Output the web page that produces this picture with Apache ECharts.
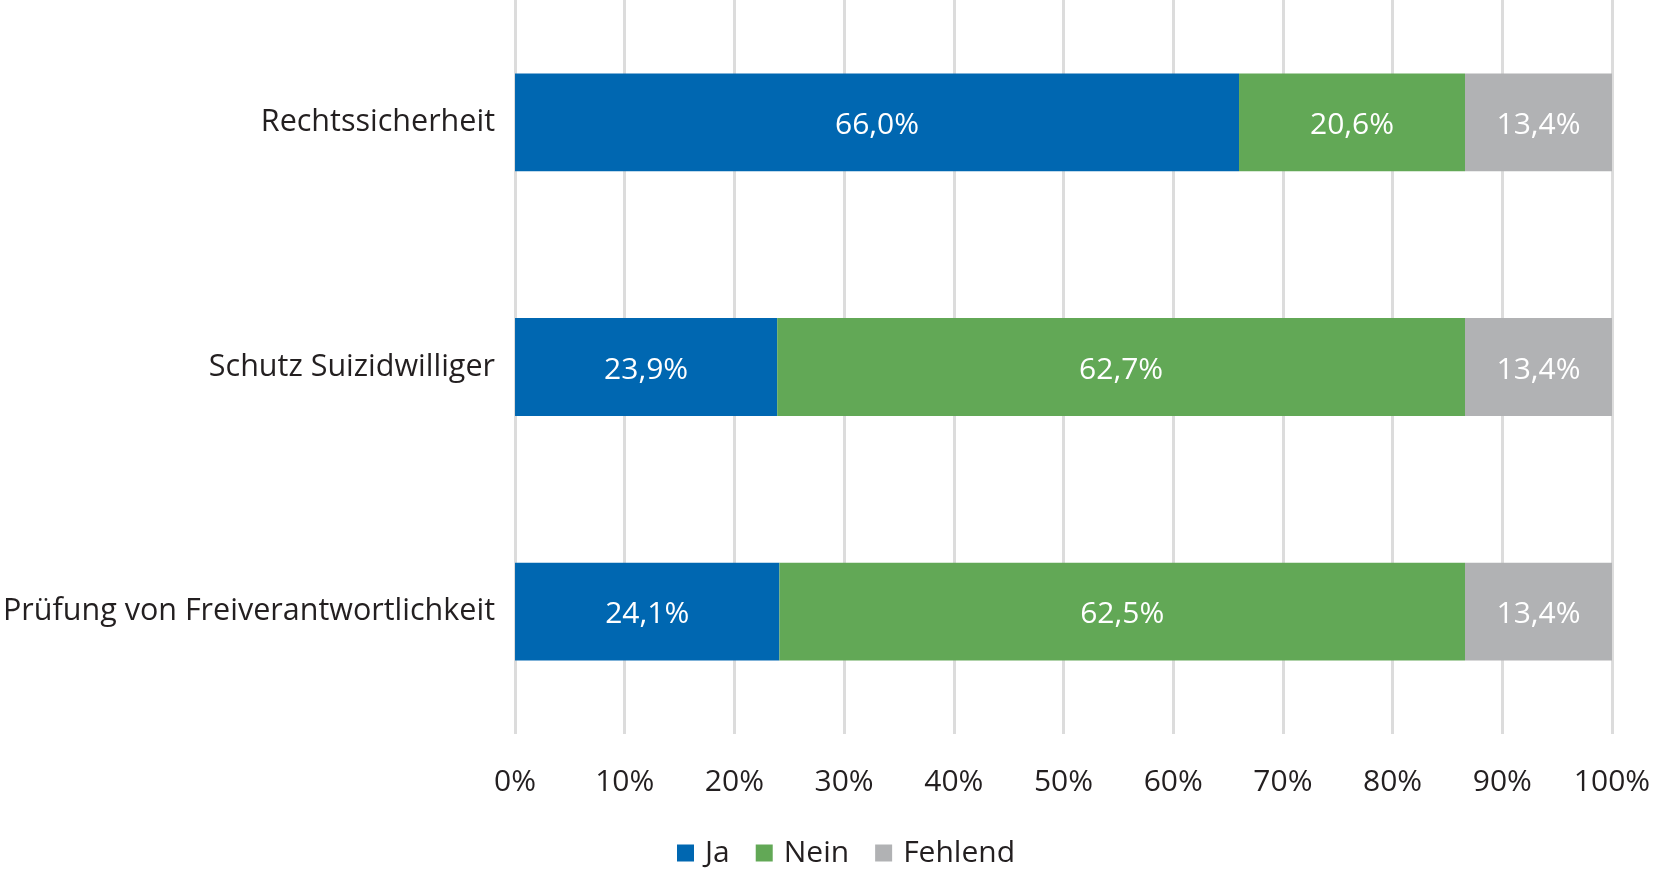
<!DOCTYPE html>
<html><head><meta charset="utf-8">
<script src="https://cdn.jsdelivr.net/npm/echarts@6/dist/echarts.min.js"></script>
<style>html,body{margin:0;padding:0;background:#fff}#c{width:1654px;height:873px}</style>
</head><body><div id="c"></div>
<script>
const categories = ['Rechtssicherheit', 'Schutz Suizidwilliger', 'Prüfung von Freiverantwortlichkeit'];
const ja = [66.0, 23.9, 24.1];
const nein = [20.6, 62.7, 62.5];
const fehlend = [13.4, 13.4, 13.4];
const seriesNames = ['Ja', 'Nein', 'Fehlend'];
const colors = ['#0067b1', '#62a856', '#b1b2b4'];
const FONT = '"Open Sans", "Noto Sans", sans-serif';
const fmt = v => v.toFixed(1).replace('.', ',') + '%';
const chart = echarts.init(document.getElementById('c'));
const mk = (name, data, color) => ({
  name, type: 'bar', stack: 'total', data, barWidth: '40%',
  itemStyle: { color },
  label: { show: true, position: 'inside', color: '#fff', fontFamily: FONT, fontSize: 30,
    offset: [0, 3], formatter: p => fmt(p.value) },
  emphasis: { disabled: true }
});
chart.setOption({
  animation: false,
  textStyle: { fontFamily: FONT },
  grid: { left: 514, right: 42, top: 0, bottom: 139, containLabel: false },
  legend: {
    bottom: 0, left: 672, itemWidth: 17, itemHeight: 17, itemGap: 26,
    icon: 'rect',
    textStyle: { fontFamily: FONT, fontSize: 30, color: '#231f20', padding: [0, 0, 0, 6] },
    data: seriesNames
  },
  xAxis: {
    type: 'value', min: 0, max: 100, interval: 10,
    axisLine: { show: false }, axisTick: { show: false },
    splitLine: { show: true, lineStyle: { color: '#dcdcdc', width: 3 } },
    axisLabel: { formatter: v => v + '%', fontFamily: FONT, fontSize: 30, color: '#231f20', margin: 33 }
  },
  yAxis: {
    type: 'category', data: categories, inverse: true,
    axisLine: { show: false }, axisTick: { show: false },
    axisLabel: { fontFamily: FONT, fontSize: 30.5, color: '#231f20', margin: 20, padding: [3, 0, 0, 0] }
  },
  series: [mk(seriesNames[0], ja, colors[0]), mk(seriesNames[1], nein, colors[1]), mk(seriesNames[2], fehlend, colors[2])]
});
</script></body></html>
